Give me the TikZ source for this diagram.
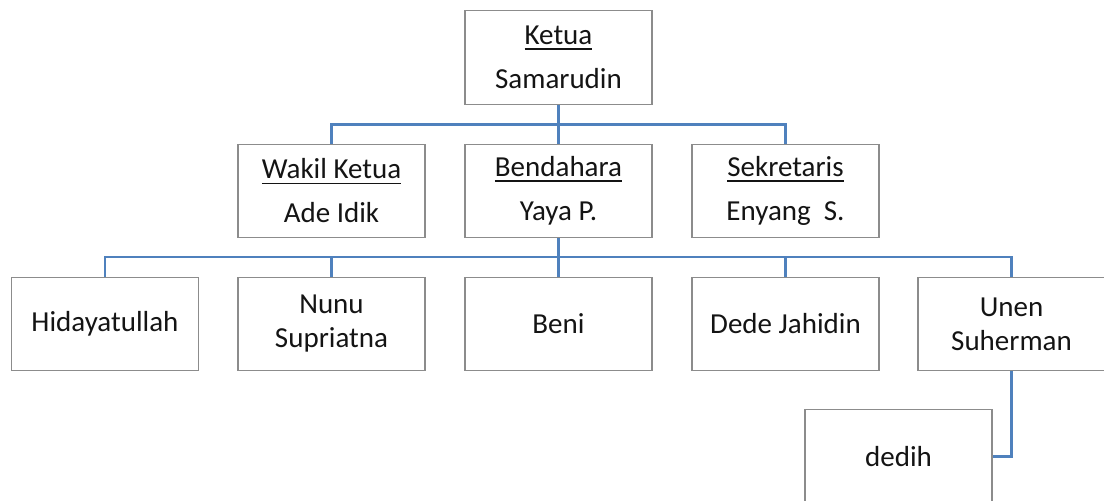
\documentclass[tikz,border=0pt]{standalone}
\usepackage{fontspec}
\setmainfont{Carlito}
\definecolor{conncol}{RGB}{79,129,189}
\definecolor{boxcol}{RGB}{140,140,140}
\definecolor{txtcol}{RGB}{20,20,20}
\newlength\ulwd
\newcommand\ulx[1]{\settowidth\ulwd{#1}\rlap{\rule[-5.5pt]{\ulwd}{1.8pt}}#1}
\begin{document}
\begin{tikzpicture}[x=1pt,y=-1pt,
  orgbox/.style={draw=boxcol, line width=1.2pt, minimum width=187pt, minimum height=93.5pt,
    inner sep=0pt, align=center, font=\fontsize{29}{34}\selectfont, text=txtcol},
  conn/.style={draw=conncol, line width=2.6pt}]
\useasboundingbox (0,0) rectangle (1104,501);
\node[orgbox] (ketua) at (558.5,57.5) {\ulx{Ketua}\\[10pt]Samarudin};
\node[orgbox] (wakil) at (331.5,191) {\ulx{Wakil Ketua}\\[10pt]Ade Idik};
\node[orgbox] (bend) at (558.5,191) {\ulx{Bendahara}\\[10pt]Yaya P.};
\node[orgbox] (sek) at (785.5,191) {\ulx{Sekretaris}\\[10pt]Enyang~~S.};
\node[orgbox] (hid) at (105,324) {Hidayatullah};
\node[orgbox] (nunu) at (331.5,324) {Nunu\\Supriatna};
\node[orgbox] (beni) at (558.5,324) {Beni};
\node[orgbox] (dede) at (785.5,324) {Dede Jahidin};
\node[orgbox] (unen) at (1011.5,324) {Unen\\Suherman};
\node[orgbox] (dedih) at (898.5,456.5) {dedih};
\coordinate (b1) at (558.5,124.5);
\coordinate (b2) at (558.5,257);
\draw[conn] (ketua.south) -- (b1);
\draw[conn] (b1) -| (wakil.north);
\draw[conn] (b1) -| (sek.north);
\draw[conn] (b1) -- (bend.north);
\draw[conn] (bend.south) -- (b2);
\draw[conn] (b2) -| (hid.north);
\draw[conn] (b2) -| (nunu.north);
\draw[conn] (b2) -- (beni.north);
\draw[conn] (b2) -| (dede.north);
\draw[conn] (b2) -| (unen.north);
\draw[conn] (unen.south) |- (dedih.east);
\end{tikzpicture}
\end{document}
